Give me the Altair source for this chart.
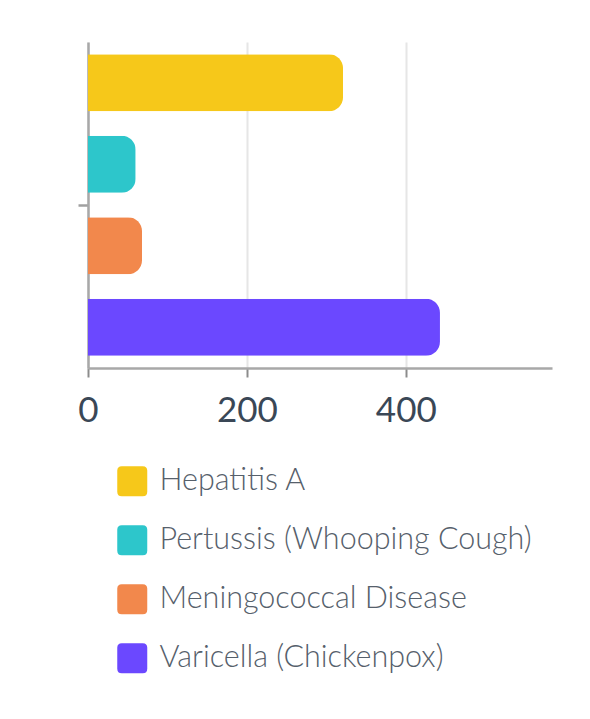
import altair as alt
import pandas as pd

diseases = ["Hepatitis A", "Pertussis (Whooping Cough)", "Meningococcal Disease", "Varicella (Chickenpox)"]
cases = [321, 60, 68, 443]
colors = ["#F6C81A", "#2DC6CB", "#F2884C", "#6B48FF"]
x_ticks = [0, 200, 400]

df = pd.DataFrame({"group": [""] * len(diseases), "disease": diseases, "cases": cases})

rounded_square = ("M -0.7 -1 L 0.7 -1 Q 1 -1 1 -0.7 L 1 0.7 Q 1 1 0.7 1 L -0.7 1 "
                  "Q -1 1 -1 0.7 L -1 -0.7 Q -1 -1 -0.7 -1 Z")

chart = alt.Chart(df).mark_bar(cornerRadiusEnd=14).encode(
    x=alt.X("cases:Q", scale=alt.Scale(domain=[0, 584], nice=False),
            axis=alt.Axis(values=x_ticks, title=None, grid=True, gridColor="#e6e6e6", gridWidth=2,
                          domainColor="#a8a8a8", domainWidth=2.5, tickColor="#8c8c8c", tickWidth=2,
                          tickSize=9, labelFont="Lato", labelFontSize=35, labelColor="#3a4756",
                          labelPadding=16, labelFlush=False)),
    y=alt.Y("group:N", scale=alt.Scale(paddingOuter=0, paddingInner=0),
            axis=alt.Axis(title=None, labels=False, domainColor="#a8a8a8", domainWidth=2.5,
                          tickColor="#a0a0a0", tickWidth=2.5, tickSize=10, grid=False)),
    yOffset=alt.YOffset("disease:N", sort=diseases,
                        scale=alt.Scale(paddingInner=0.3, paddingOuter=0.15)),
    color=alt.Color("disease:N", sort=diseases,
                    scale=alt.Scale(domain=diseases, range=colors),
                    legend=alt.Legend(title=None, orient="none", legendX=29, legendY=424,
                                      direction="vertical", symbolType=rounded_square,
                                      symbolSize=900, symbolStrokeWidth=0, symbolOpacity=1,
                                      labelFont="Lato", labelFontSize=30.5, labelFontWeight=300,
                                      labelColor="#56606b", labelOffset=12, rowPadding=28,
                                      padding=0, labelLimit=500)),
).properties(
    width=464, height=326,
    autosize=alt.AutoSizeParams(type="none"),
    padding={"left": 80, "top": 34, "right": 30, "bottom": 330},
    background="white",
).configure_view(stroke=None)

chart.save("out.html", embed_options={"renderer": "svg", "actions": False})
